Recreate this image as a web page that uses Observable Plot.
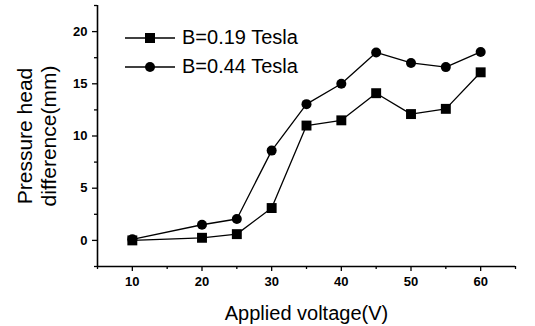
<!DOCTYPE html>
<html>
<head>
<meta charset="utf-8">
<script src="https://cdn.jsdelivr.net/npm/d3@7"></script>
<script src="https://cdn.jsdelivr.net/npm/@observablehq/plot@0.6"></script>
<style>
  html, body { margin: 0; padding: 0; background: #fff; }
  #wrap { position: relative; width: 535px; height: 326px; font-family: "Liberation Sans", Arial, sans-serif; }
  #legend { position: absolute; left: 125px; top: 23px; }
  .row { display: flex; align-items: center; height: 29px; font-size: 20px; color: #000; }
  .row svg { margin-right: 7px; }
</style>
</head>
<body>
<div id="wrap"><div id="legend"></div></div>
<script>
const voltage = [10, 20, 25, 30, 35, 40, 45, 50, 55, 60];
const b019 = [0.0, 0.25, 0.6, 3.1, 11.0, 11.5, 14.1, 12.1, 12.6, 16.1];
const b044 = [0.1, 1.5, 2.05, 8.6, 13.05, 15.0, 18.0, 17.0, 16.6, 18.05];
const seriesNames = ["B=0.19 Tesla", "B=0.44 Tesla"];
const xMajor = [10, 20, 30, 40, 50, 60];
const xMinor = [5, 15, 25, 35, 45, 55, 65];
const yMajor = [0, 5, 10, 15, 20];
const yMinor = [-2.5, 2.5, 7.5, 12.5, 17.5, 22.5];
const xLabel = "Applied voltage(V)";
const yLabel1 = "Pressure head";
const yLabel2 = "difference(mm)";

const s1 = voltage.map((v, i) => ({x: v, y: b019[i]}));
const s2 = voltage.map((v, i) => ({x: v, y: b044[i]}));

const chart = Plot.plot({
  width: 535,
  height: 326,
  marginLeft: 97,
  marginRight: 20,
  marginTop: 5,
  marginBottom: 60,
  style: {fontFamily: "'Liberation Sans', Arial, sans-serif", fontSize: "13px", fontWeight: "bold", color: "#000", background: "#fff"},
  x: {domain: [5, 65]},
  y: {domain: [-2.5, 22.5]},
  marks: [
    Plot.axisX({ticks: xMajor, tickSize: 5, tickPadding: 5, label: null, tickFormat: d => d, strokeWidth: 1.3}),
    Plot.axisX({ticks: xMinor, tickSize: 3, text: null, label: null, strokeWidth: 1.3}),
    Plot.axisY({ticks: yMajor, tickSize: 5, tickPadding: 5, label: null, strokeWidth: 1.3}),
    Plot.axisY({ticks: yMinor, tickSize: 3, text: null, label: null, strokeWidth: 1.3}),
    Plot.ruleX([5], {stroke: "#000", strokeWidth: 1.6}),
    Plot.ruleY([-2.5], {stroke: "#000", strokeWidth: 1.6}),
    Plot.line(s1, {x: "x", y: "y", stroke: "#000", strokeWidth: 1.3}),
    Plot.line(s2, {x: "x", y: "y", stroke: "#000", strokeWidth: 1.3}),
    Plot.dot(s1, {x: "x", y: "y", symbol: "square", fill: "#000", r: 5.6}),
    Plot.dot(s2, {x: "x", y: "y", symbol: "circle", fill: "#000", r: 5}),
    Plot.text([xLabel], {text: d => d, frameAnchor: "bottom", dy: 47, lineAnchor: "middle", textAnchor: "middle", fontSize: 20, fontWeight: "normal"}),
    Plot.text([yLabel1], {text: d => d, frameAnchor: "left", dx: -72, rotate: -90, textAnchor: "middle", lineAnchor: "middle", fontSize: 21, fontWeight: "normal"}),
    Plot.text([yLabel2], {text: d => d, frameAnchor: "left", dx: -48, rotate: -90, textAnchor: "middle", lineAnchor: "middle", fontSize: 21, fontWeight: "normal"})
  ]
});
document.getElementById("wrap").prepend(chart);

const legend = document.getElementById("legend");
seriesNames.forEach((name, i) => {
  const row = document.createElement("div");
  row.className = "row";
  const marker = i === 0
    ? '<rect x="20" y="5" width="10" height="10" fill="#000"/>'
    : '<circle cx="25" cy="10" r="5" fill="#000"/>';
  row.innerHTML = '<svg width="50" height="20"><line x1="0" x2="50" y1="10" y2="10" stroke="#000" stroke-width="1.3"/>' + marker + '</svg><span>' + name + '</span>';
  legend.appendChild(row);
});
</script>
</body>
</html>
